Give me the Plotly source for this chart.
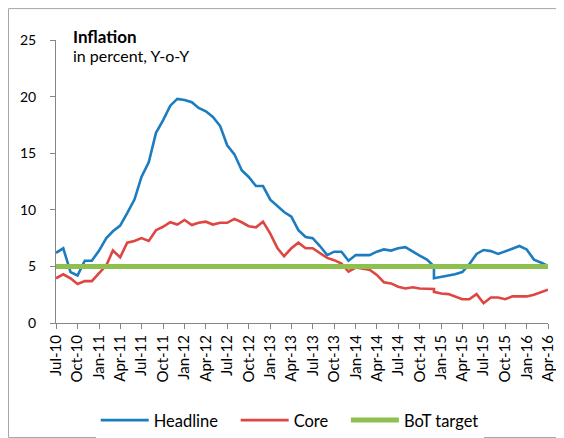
import pandas as pd
import plotly.graph_objects as go

# monthly observations, Jul-10 .. Apr-16; Dec-14 shows up twice because the
# series break (rebasing) is drawn as a vertical step in the original chart
months = list(pd.date_range("2010-07-01", "2014-12-01", freq="MS")) + list(
    pd.date_range("2014-12-01", "2016-04-01", freq="MS")
)

headline = [
    6.2, 6.6, 4.5, 4.2, 5.5, 5.5, 6.4, 7.5, 8.1, 8.6, 9.7, 10.9,
    12.9, 14.2, 16.8, 17.9, 19.2, 19.8, 19.7, 19.5, 19.0, 18.7, 18.2, 17.4,
    15.7, 14.9, 13.5, 12.9, 12.1, 12.1, 10.9, 10.3, 9.8, 9.4, 8.2, 7.6,
    7.5, 6.8, 6.0, 6.3, 6.3, 5.5, 6.0, 6.0, 6.0, 6.3, 6.5, 6.4,
    6.6, 6.7, 6.3, 5.95, 5.6, 5.0,
    3.95, 4.1, 4.2, 4.3, 4.5, 5.2, 6.1, 6.45, 6.35, 6.1, 6.35, 6.6,
    6.8, 6.5, 5.6, 5.35, 5.05,
]

core = [
    3.95, 4.3, 3.95, 3.45, 3.7, 3.7, 4.4, 5.1, 6.4, 5.8, 7.1, 7.25,
    7.5, 7.25, 8.2, 8.5, 8.9, 8.7, 9.1, 8.65, 8.85, 8.95, 8.7, 8.85,
    8.85, 9.2, 8.9, 8.55, 8.45, 8.95, 7.9, 6.6, 5.9, 6.6, 7.1, 6.6,
    6.6, 6.2, 5.75, 5.55, 5.25, 4.55, 4.9, 4.8, 4.7, 4.25, 3.6, 3.5,
    3.2, 3.05, 3.15, 3.05, 3.05, 3.0,
    2.75, 2.6, 2.55, 2.35, 2.1, 2.1, 2.55, 1.75, 2.25, 2.25, 2.1, 2.35,
    2.35, 2.35, 2.5, 2.75, 2.95,
]

bot_target = [5.0] * len(months)

FONT = "Lato"
PAD = "&nbsp;" * 3  # extra room between legend entries

fig = go.Figure()

fig.add_trace(go.Scatter(x=months, y=headline, mode="lines", name="Headline" + PAD,
                         line=dict(color="#1C7CC0", width=2.6)))
fig.add_trace(go.Scatter(x=months, y=core, mode="lines", name="Core" + PAD,
                         line=dict(color="#DE4641", width=2.6)))
fig.add_trace(go.Scatter(x=months, y=bot_target, mode="lines", name="BoT target",
                         line=dict(color="#8DC04F", width=5)))

fig.update_xaxes(
    type="date",
    range=["2010-07-01", "2016-04-01"],
    tick0="2010-07-01",
    dtick="M3",
    tickformat="%b-%y",
    tickangle=-90,
    ticks="outside",
    ticklen=5,
    tickcolor="#868686",
    showline=True,
    linecolor="#868686",
    linewidth=1,
    showgrid=False,
    zeroline=False,
    automargin=False,
    tickfont=dict(family=FONT, size=15, color="#000"),
)

fig.update_yaxes(
    range=[0, 25],
    dtick=5,
    ticks="outside",
    ticklen=5,
    tickcolor="#868686",
    ticklabelstandoff=11,
    showline=True,
    linecolor="#868686",
    linewidth=1,
    showgrid=False,
    zeroline=False,
    automargin=False,
    tickfont=dict(family=FONT, size=14, color="#000"),
)

fig.add_annotation(
    xref="paper", yref="paper", x=0.031, y=1.013,
    xanchor="left", yanchor="middle", showarrow=False, align="left",
    text="<b>Inflation</b>",
    font=dict(family=FONT, size=17, color="#000"),
)
fig.add_annotation(
    xref="paper", yref="paper", x=0.031, y=0.944,
    xanchor="left", yanchor="middle", showarrow=False, align="left",
    text="in percent, Y-o-Y",
    font=dict(family=FONT, size=16, color="#000"),
)

# thin grey frame around the whole chart
fig.add_shape(
    type="rect", xref="paper", yref="paper",
    x0=-0.0965, x1=1.0315, y0=-0.4046, y1=1.111,
    line=dict(color="#A6A6A6", width=1),
)

# the page body has an 8px margin, so the figure is sized to the visible area
fig.update_layout(
    width=556,
    height=430,
    margin=dict(l=48, r=16, t=32, b=115, autoexpand=False),
    plot_bgcolor="white",
    paper_bgcolor="white",
    showlegend=True,
    legend=dict(
        orientation="h",
        x=0.475, xanchor="center",
        y=-0.344, yanchor="middle",
        font=dict(family=FONT, size=16.5, color="#000"),
        itemwidth=48,
        traceorder="normal",
    ),
)

fig.write_html("out.html")
